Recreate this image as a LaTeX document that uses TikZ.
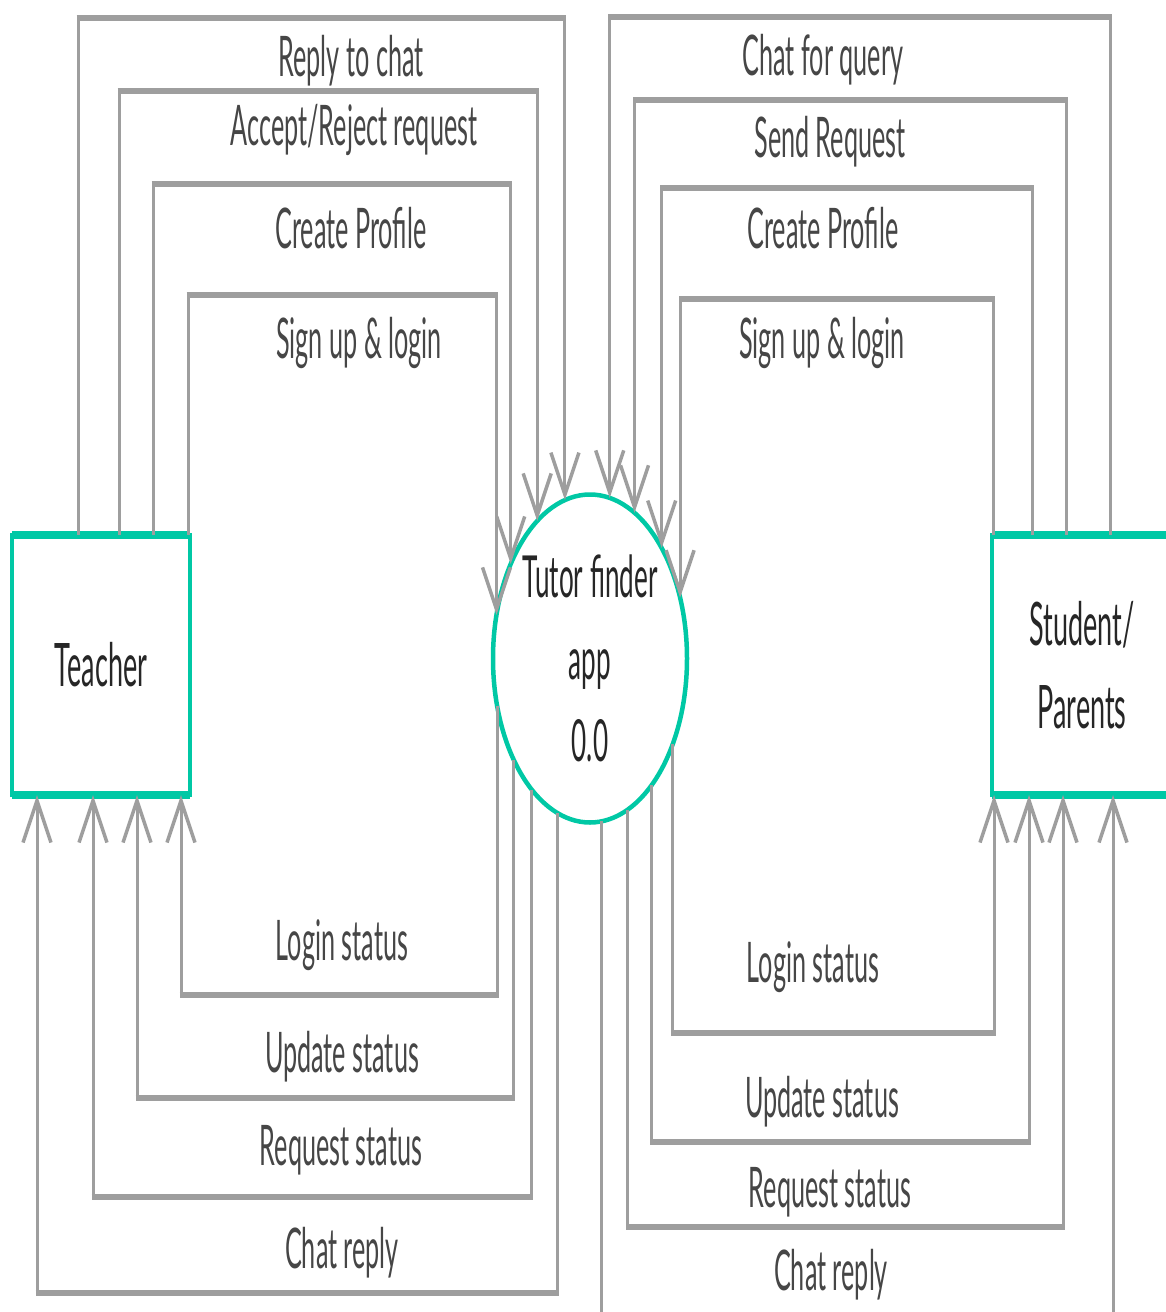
\documentclass[tikz,border=0pt]{standalone}
\usepackage{fontspec}
\usetikzlibrary{arrows.meta,shapes.geometric}
\newfontfamily\lato[FakeStretch=0.45]{Lato}
\definecolor{teal1}{RGB}{0,200,165}
\definecolor{wire}{RGB}{158,158,158}
\definecolor{ink}{RGB}{70,70,70}
\begin{document}
\begin{tikzpicture}[x=1pt,y=-1pt,
  flow/.style={draw=wire, line width=3pt, -{Straight Barb[length=42pt,width=28pt,line width=3.5pt]}},
  hbar/.style={draw=wire, line width=6pt, shorten <=-1.5pt, shorten >=-1.5pt},
  entity/.style={draw=teal1, line width=3.5pt, fill=white, inner sep=0pt, outer sep=0pt,
    minimum height=260pt, align=center, text=black!85, font=\lato\fontsize{60}{83}\selectfont},
  edgebar/.style={draw=teal1, line width=7.5pt},
  process/.style={ellipse, draw=teal1, line width=4.5pt, fill=white, inner sep=0pt, outer sep=0pt,
    minimum width=194pt, minimum height=328pt, align=center, text=black!85,
    font=\lato\fontsize{58}{82}\selectfont},
  lbl/.style={anchor=base, inner sep=0pt, text=ink, font=\lato\fontsize{56}{60}\selectfont}]
\useasboundingbox (0,0) rectangle (1166,1312);

% entities and process
\node[entity, minimum width=178pt] (teacher) at (101,665) {Teacher};
\node[entity, minimum width=180pt] (student) at (1082,665) {Student/\\Parents};
\node[process] (app) at (590,658.5) {Tutor finder\\app\\0.0};
\draw[edgebar] (teacher.north west) -- (teacher.north east);
\draw[edgebar] (teacher.south west) -- (teacher.south east);
\draw[edgebar] (student.north west) -- (student.north east);
\draw[edgebar] (student.south west) -- (student.south east);

% teacher -> app
\coordinate (t1) at (78,18);
\coordinate (t2) at (119,91);
\coordinate (t3) at (153,184);
\coordinate (t4) at (188,295);
\draw[flow] (teacher.north -| t1) -- (t1) -| (app.99);
\draw[flow] (teacher.north -| t2) -- (t2) -| (app.111);
\draw[flow] (teacher.north -| t3) -- (t3) -| (app.130);
\draw[flow] (teacher.north -| t4) -- (t4) -| (app.155);
\draw[hbar] (t1) -- (t1 -| app.99);
\draw[hbar] (t2) -- (t2 -| app.111);
\draw[hbar] (t3) -- (t3 -| app.130);
\draw[hbar] (t4) -- (t4 -| app.155);

% app -> teacher
\coordinate (u1) at (181,995);
\coordinate (u2) at (137,1098);
\coordinate (u3) at (93,1197);
\coordinate (u4) at (37,1293);
\draw[flow] (app.207) |- (u1) -- (teacher.south -| u1);
\draw[flow] (app.233) |- (u2) -- (teacher.south -| u2);
\draw[flow] (app.246) |- (u3) -- (teacher.south -| u3);
\draw[flow] (app.258) |- (u4) -- (teacher.south -| u4);
\draw[hbar] (u1) -- (u1 -| app.207);
\draw[hbar] (u2) -- (u2 -| app.233);
\draw[hbar] (u3) -- (u3 -| app.246);
\draw[hbar] (u4) -- (u4 -| app.258);

% student -> app
\coordinate (s1) at (1110,17);
\coordinate (s2) at (1066,100);
\coordinate (s3) at (1032,188);
\coordinate (s4) at (993,299);
\draw[flow] (student.north -| s1) -- (s1) -| (app.83);
\draw[flow] (student.north -| s2) -- (s2) -| (app.73);
\draw[flow] (student.north -| s3) -- (s3) -| (app.57);
\draw[flow] (student.north -| s4) -- (s4) -| (app.34);
\draw[hbar] (s1) -- (s1 -| app.83);
\draw[hbar] (s2) -- (s2 -| app.73);
\draw[hbar] (s3) -- (s3 -| app.57);
\draw[hbar] (s4) -- (s4 -| app.34);

% app -> student
\coordinate (v1) at (994,1033);
\coordinate (v2) at (1029,1142);
\coordinate (v3) at (1063,1227);
\coordinate (v4) at (1113,1330);
\draw[flow] (app.314) |- (v1) -- (student.south -| v1);
\draw[flow] (app.296) |- (v2) -- (student.south -| v2);
\draw[flow] (app.284) |- (v3) -- (student.south -| v3);
\draw[flow] (app.274) |- (v4) -- (student.south -| v4);
\draw[hbar] (v1) -- (v1 -| app.314);
\draw[hbar] (v2) -- (v2 -| app.296);
\draw[hbar] (v3) -- (v3 -| app.284);

% labels, teacher side
\node[lbl] (lt1) at (351,76) {Reply to chat};
\node[lbl] (lt2) at (354,145) {Accept/Reject request};
\node[lbl] (lt3) at (351,248) {Create Profile};
\node[lbl] (lt4) at (359,358) {Sign up \& login};
\node[lbl] (lu1) at (342,960) {Login status};
\node[lbl] (lu2) at (342,1072) {Update status};
\node[lbl] (lu3) at (341,1165) {Request status};
\node[lbl] (lu4) at (342,1268) {Chat reply};

% labels, student side
\node[lbl] (ls1) at (823,75) {Chat for query};
\node[lbl] (ls2) at (830,157) {Send Request};
\node[lbl] (ls3) at (823,248) {Create Profile};
\node[lbl] (ls4) at (822,358) {Sign up \& login};
\node[lbl] (lv1) at (813,982) {Login status};
\node[lbl] (lv2) at (822,1117) {Update status};
\node[lbl] (lv3) at (830,1207) {Request status};
\node[lbl] (lv4) at (831,1290) {Chat reply};
\end{tikzpicture}
\end{document}
